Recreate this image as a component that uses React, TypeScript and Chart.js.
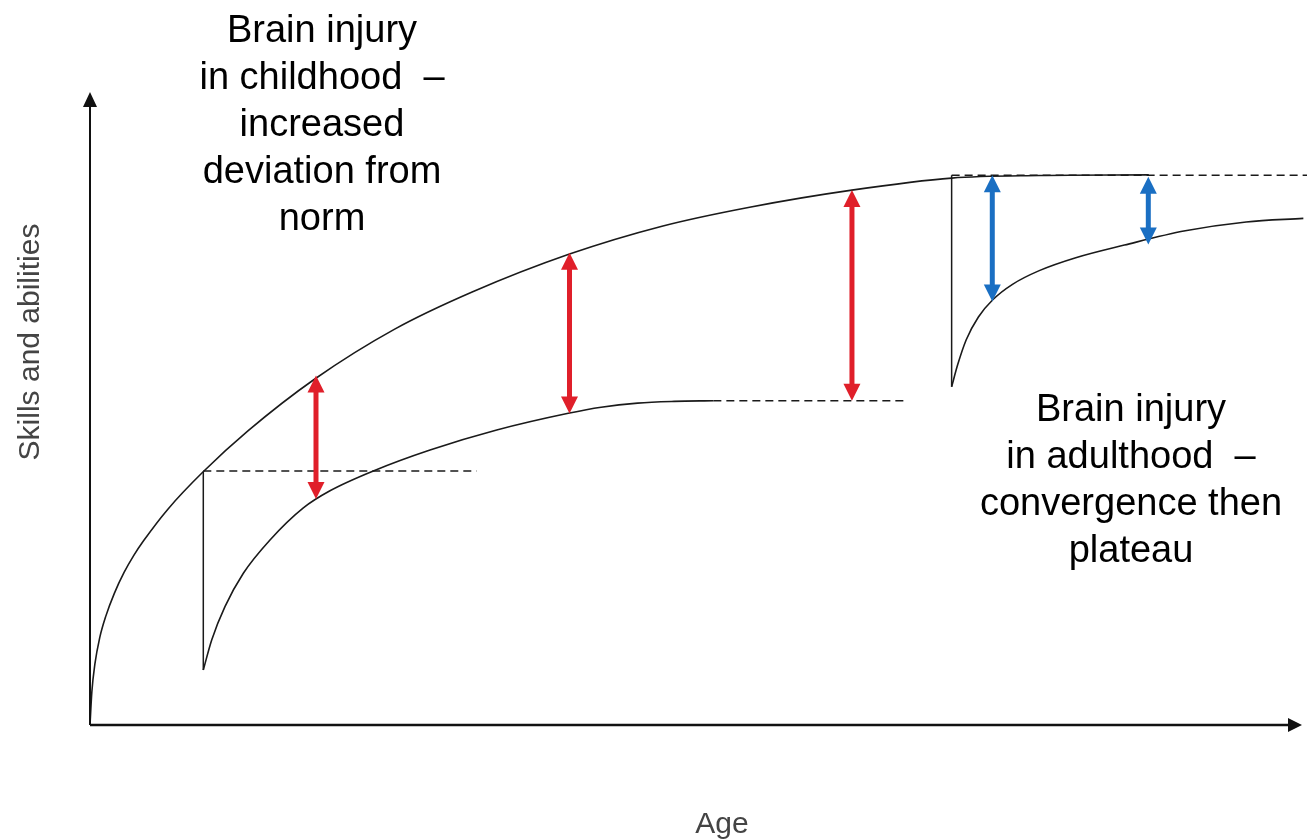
import React, { useEffect, useRef } from "react";
import { Chart, registerables } from "chart.js";

Chart.register(...registerables);

// ---- Data (Age 0–100, Skills 0–100) ----
const normAge = [0, 0.15, 0.4, 0.8, 1.3, 2.0, 2.8, 3.6, 4.4, 6.4, 9.3, 13, 18.5, 25, 31.4, 39.4, 47, 54.2, 62.6, 70.8, 78, 87];
const normSkill = [0, 5.2, 9.6, 13.8, 17.2, 20.8, 24.1, 26.8, 29.1, 34.1, 40.0, 46.5, 54.7, 62.5, 68.4, 74.4, 78.8, 81.8, 84.5, 86.4, 86.8, 86.9];

const childAge = [9.31, 10.0, 11.09, 12.6, 14.79, 17.53, 19.72, 23.28, 27.94, 33.42, 39.3, 42.0, 45.0, 48.0, 51.22];
const childSkill = [8.69, 13.43, 18.69, 23.97, 29.23, 34.3, 37.0, 40.13, 43.44, 46.6, 49.24, 50.2, 50.85, 51.12, 51.23];

const adultAge = [70.8, 71.3, 72.0, 73.0, 74.2, 75.8, 78.0, 81.0, 85.0, 90.0, 95.0, 99.7];
const adultSkill = [53.44, 56.94, 60.86, 64.46, 67.22, 69.62, 71.78, 73.82, 75.82, 78.07, 79.47, 80.03];

// injury drops (vertical lines)
const dropAge = [9.31, 70.8];
const dropTop = [40.0, 86.85];
const dropBottom = [8.69, 53.44];

// dashed reference levels
const levelStart = [9.31, 51.22, 70.8];
const levelEnd = [31.77, 67.21, 100];
const levelValue = [40.13, 51.23, 86.85];

// deviation arrows
const redAge = [18.57, 39.4, 62.61];
const redTop = [55.2, 74.6, 84.5];
const redBottom = [35.7, 49.2, 51.23];

const blueAge = [74.14, 86.96];
const blueTop = [86.85, 86.6];
const blueBottom = [66.9, 75.9];

// text
const childLabel = ["Brain injury", "in childhood  \u2013", "increased", "deviation from", "norm"];
const adultLabel = ["Brain injury", "in adulthood  \u2013", "convergence then", "plateau"];
const xTitle = "Age";
const yTitle = "Skills and abilities";

const FONT = "'Liberation Sans', Arial, Helvetica, sans-serif";
const LINE = "#1a1a1a";
const RED = "#e01f2a";
const BLUE = "#1a6fc3";

const toPts = (xs: number[], ys: number[]) => xs.map((x, i) => ({ x, y: ys[i] }));

function drawDoubleArrow(ctx: CanvasRenderingContext2D, x: number, yTop: number, yBot: number, color: string) {
  const head = 17;
  const half = 8.5;
  ctx.save();
  ctx.strokeStyle = color;
  ctx.fillStyle = color;
  ctx.lineWidth = 5;
  ctx.beginPath();
  ctx.moveTo(x, yTop + head - 2);
  ctx.lineTo(x, yBot - head + 2);
  ctx.stroke();
  ctx.beginPath();
  ctx.moveTo(x, yTop);
  ctx.lineTo(x - half, yTop + head);
  ctx.lineTo(x + half, yTop + head);
  ctx.closePath();
  ctx.fill();
  ctx.beginPath();
  ctx.moveTo(x, yBot);
  ctx.lineTo(x - half, yBot - head);
  ctx.lineTo(x + half, yBot - head);
  ctx.closePath();
  ctx.fill();
  ctx.restore();
}

const decorPlugin = {
  id: "decor",
  afterDatasetsDraw(chart: any) {
    const { ctx, chartArea, scales } = chart;
    const xs = scales.x;
    const ys = scales.y;
    const left = chartArea.left;
    const bottom = chartArea.bottom;

    // axes with arrow heads
    ctx.save();
    ctx.strokeStyle = "#111";
    ctx.fillStyle = "#111";
    ctx.lineWidth = 2;
    ctx.beginPath();
    ctx.moveTo(left, bottom);
    ctx.lineTo(left, chartArea.top + 12);
    ctx.stroke();
    ctx.beginPath();
    ctx.moveTo(left, chartArea.top);
    ctx.lineTo(left - 7, chartArea.top + 15);
    ctx.lineTo(left + 7, chartArea.top + 15);
    ctx.closePath();
    ctx.fill();
    const xEnd = chartArea.right - 5;
    ctx.lineWidth = 2.5;
    ctx.beginPath();
    ctx.moveTo(left, bottom);
    ctx.lineTo(xEnd - 12, bottom);
    ctx.stroke();
    ctx.beginPath();
    ctx.moveTo(xEnd, bottom);
    ctx.lineTo(xEnd - 14, bottom - 7);
    ctx.lineTo(xEnd - 14, bottom + 7);
    ctx.closePath();
    ctx.fill();
    ctx.restore();

    // arrows
    redAge.forEach((a, i) =>
      drawDoubleArrow(ctx, xs.getPixelForValue(a), ys.getPixelForValue(redTop[i]), ys.getPixelForValue(redBottom[i]), RED)
    );
    blueAge.forEach((a, i) =>
      drawDoubleArrow(ctx, xs.getPixelForValue(a), ys.getPixelForValue(blueTop[i]), ys.getPixelForValue(blueBottom[i]), BLUE)
    );
  },
  afterDraw(chart: any) {
    const { ctx } = chart;
    ctx.save();
    ctx.fillStyle = "#000";
    ctx.textAlign = "center";
    ctx.textBaseline = "alphabetic";
    ctx.font = `38px ${FONT}`;
    childLabel.forEach((t, i) => ctx.fillText(t, 322, 42 + i * 47));
    adultLabel.forEach((t, i) => ctx.fillText(t, 1131, 421 + i * 47));

    ctx.fillStyle = "#444";
    ctx.font = `30px ${FONT}`;
    ctx.textBaseline = "middle";
    ctx.fillText(xTitle, 722, 825);
    ctx.translate(31, 342);
    ctx.rotate(-Math.PI / 2);
    ctx.fillText(yTitle, 0, 0);
    ctx.restore();
  },
};

export default function App() {
  const ref = useRef<HTMLCanvasElement | null>(null);

  useEffect(() => {
    if (!ref.current) return;
    const curve = (xs: number[], ys: number[]) => ({
      data: toPts(xs, ys),
      showLine: true,
      borderColor: LINE,
      borderWidth: 1.6,
      pointRadius: 0,
      cubicInterpolationMode: "monotone" as const,
      fill: false,
    });
    const straight = (pts: { x: number; y: number }[], dashed: boolean) => ({
      data: pts,
      showLine: true,
      borderColor: LINE,
      borderWidth: 1.5,
      borderDash: dashed ? [8, 5] : [],
      pointRadius: 0,
      tension: 0,
      fill: false,
    });
    const datasets: any[] = [
      curve(normAge, normSkill),
      curve(childAge, childSkill),
      curve(adultAge, adultSkill),
      ...dropAge.map((a, i) => straight([{ x: a, y: dropTop[i] }, { x: a, y: dropBottom[i] }], false)),
      ...levelValue.map((v, i) => straight([{ x: levelStart[i], y: v }, { x: levelEnd[i], y: v }], true)),
    ];

    const chart = new Chart(ref.current, {
      type: "scatter",
      data: { datasets },
      options: {
        responsive: false,
        animation: false,
        devicePixelRatio: 1,
        layout: { padding: { left: 90, top: 92, right: 0, bottom: 115 } },
        plugins: { legend: { display: false }, tooltip: { enabled: false }, title: { display: false } },
        scales: {
          x: { type: "linear", min: 0, max: 100, display: false },
          y: { type: "linear", min: 0, max: 100, display: false },
        },
        datasets: { scatter: { clip: false } } as any,
      },
      plugins: [decorPlugin],
    });
    return () => chart.destroy();
  }, []);

  return (
    <div style={{ position: "absolute", left: 0, top: 0, width: 1307, height: 840, background: "#fff" }}>
      <canvas ref={ref} width={1307} height={840} style={{ display: "block" }} />
    </div>
  );
}
